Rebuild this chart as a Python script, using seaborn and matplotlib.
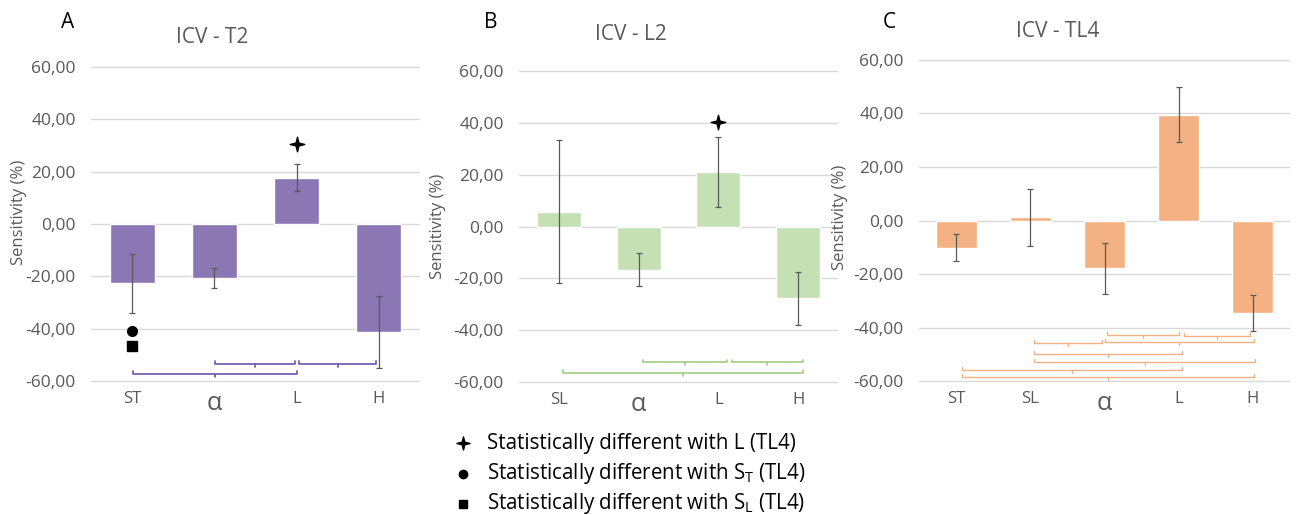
"""Sensitivity change per condition, three ICV panels."""
import matplotlib
matplotlib.use("Agg")
import matplotlib.pyplot as plt
import numpy as np
import pandas as pd
import seaborn as sns
from matplotlib.path import Path
from matplotlib.ticker import FuncFormatter

# ---- data ----
CATS_A = ["ST", "α", "L", "H"]
MEAN_A = [-22.6, -20.5, 17.7, -41.0]
ERR_A = [11.3, 3.8, 5.1, 13.7]

CATS_B = ["SL", "α", "L", "H"]
MEAN_B = [5.6, -16.6, 21.0, -27.7]
ERR_B = [27.5, 6.4, 13.5, 10.2]

CATS_C = ["ST", "SL", "α", "L", "H"]
MEAN_C = [-10.1, 1.2, -17.8, 39.4, -34.5]
ERR_C = [5.0, 10.6, 9.5, 10.2, 6.6]

# significance symbols: (category, y)
STAR_A = [("L", 30.5)]
DOT_A = [("ST", -40.6)]
SQUARE_A = [("ST", -46.4)]
STAR_B = [("L", 40.3)]

# pairwise comparison brackets: (x from, x to, y), x in category units
BRACKETS_A = [(1.01, 1.98, -53.3), (2.03, 2.97, -53.3), (0.01, 2.01, -57.1)]
BRACKETS_B = [(1.05, 2.11, -52.3), (2.17, 3.06, -52.3), (0.05, 3.06, -56.5)]
BRACKETS_C = [(2.04, 3.01, -42.7), (3.07, 3.96, -43.0), (1.05, 1.96, -45.7),
              (2.00, 4.01, -45.4), (1.05, 3.04, -49.8), (1.05, 4.03, -52.9),
              (0.08, 3.04, -55.9), (0.08, 4.02, -58.2)]

YTICKS = [-60, -40, -20, 0, 20, 40, 60]

LEGEND_MARKERS = ["star", "circle", "square"]
LEGEND_LABELS = [
    "Statistically different with L (TL4)",
    r"Statistically different with $\mathrm{S_T}$ (TL4)",
    r"Statistically different with $\mathrm{S_L}$ (TL4)",
]

GRAY = "#595959"
_r = 0.2
STAR = Path([(0, 1), (_r, _r), (1, 0), (_r, -_r), (0, -1), (-_r, -_r), (-1, 0), (-_r, _r), (0, 1)],
            closed=True)
MARKERS = {"star": STAR, "circle": "o", "square": "s"}
MSIZE = {"star": 10.5, "circle": 7, "square": 7}

sns.set_theme(style="white")
plt.rcParams["font.family"] = ["Open Sans", "DejaVu Sans"]
plt.rcParams["mathtext.fontset"] = "custom"
plt.rcParams["mathtext.rm"] = "Open Sans"
plt.rcParams["mathtext.it"] = "Open Sans:italic"


def draw_bracket(ax, x0, x1, y, color, lw, h=1.1):
    xm = (x0 + x1) / 2
    ax.plot([x0, x0, x1, x1], [y + h, y, y, y + h], color=color, lw=lw, clip_on=False)
    ax.plot([xm, xm], [y, y - h], color=color, lw=lw, clip_on=False)


def draw_panel(ax, cats, means, errs, color, br_color, brackets, title,
               title_xy, ylab_xy, br_lw=1.3, marks=()):
    df = pd.DataFrame({"group": cats, "value": means})
    sns.barplot(data=df, x="group", y="value", color=color, saturation=1,
                width=0.55, errorbar=None, ax=ax, zorder=2)
    ax.errorbar(np.arange(len(cats)), means, yerr=errs, fmt="none", ecolor=GRAY,
                elinewidth=0.9, capsize=2.5, capthick=0.9, zorder=3)

    for items, kind in marks:
        for cat, y in items:
            ax.plot(cats.index(cat), y, marker=MARKERS[kind], ms=MSIZE[kind],
                    color="black", ls="none", zorder=4, clip_on=False)

    for x0, x1, y in brackets:
        draw_bracket(ax, x0, x1, y, br_color, br_lw)

    ax.set_xlim(-0.5, len(cats) - 0.5)
    ax.set_ylim(-60.6, 60.6)
    ax.set_yticks(YTICKS)
    ax.yaxis.set_major_formatter(FuncFormatter(lambda v, p: f"{v:.2f}".replace(".", ",")))
    ax.yaxis.grid(True, color="#d9d9d9", lw=1)
    ax.set_axisbelow(True)
    sns.despine(ax=ax, left=True, bottom=True)
    ax.tick_params(axis="y", length=0, pad=11, labelsize=12.5, labelcolor=GRAY)
    ax.tick_params(axis="x", length=0, pad=6, labelsize=12, labelcolor=GRAY)
    for lab in ax.get_xticklabels():
        if lab.get_text() == "α":
            lab.set_fontsize(18)
    ax.set_xlabel("")
    ax.set_ylabel("Sensitivity (%)", fontsize=12, color=GRAY)
    ax.yaxis.set_label_coords(*ylab_xy)
    ax.text(title_xy[0], title_xy[1], title, transform=ax.transAxes, ha="center",
            va="center", fontsize=15, color=GRAY)


fig = plt.figure(figsize=(13, 5.15), dpi=100)
W, H = 1300, 515


def add_axes(x0, x1, ytop, ybot):
    return fig.add_axes([x0 / W, 1 - ybot / H, (x1 - x0) / W, (ybot - ytop) / H])


ax_a = add_axes(91, 420, 65, 383)
ax_b = add_axes(519, 838, 69, 384)
ax_c = add_axes(919, 1290, 58, 383)

draw_panel(ax_a, CATS_A, MEAN_A, ERR_A, "#8a77b3", "#7a5fb8", BRACKETS_A,
           "ICV - T2", (0.368, 1.088), (-0.196, 0.535),
           marks=[(STAR_A, "star"), (DOT_A, "circle"), (SQUARE_A, "square")])
draw_panel(ax_b, CATS_B, MEAN_B, ERR_B, "#c5e0b4", "#a9d18e", BRACKETS_B,
           "ICV - L2", (0.351, 1.108), (-0.228, 0.50),
           marks=[(STAR_B, "star")])
draw_panel(ax_c, CATS_C, MEAN_C, ERR_C, "#f4b183", "#f4b183", BRACKETS_C,
           "ICV - TL4", (0.375, 1.083), (-0.192, 0.51), br_lw=1.0)

for letter, (px, py) in zip(["A", "B", "C"], [(68, 22), (491, 22), (889, 22)]):
    fig.text(px / W, 1 - py / H, letter, ha="center", va="center", fontsize=15, color="black")

# legend block under panel B
lax = fig.add_axes([0, 0, 1, 1])
lax.set_xlim(0, W)
lax.set_ylim(H, 0)
lax.axis("off")
for i, (kind, label) in enumerate(zip(LEGEND_MARKERS, LEGEND_LABELS)):
    y = 443 + i * 30.5
    lax.plot(463, y, marker=MARKERS[kind], ms=MSIZE[kind] - 1, color="black", ls="none")
    lax.text(487, y, label, ha="left", va="center", fontsize=14.8, color="black")

fig.savefig("out.png", dpi=100)
